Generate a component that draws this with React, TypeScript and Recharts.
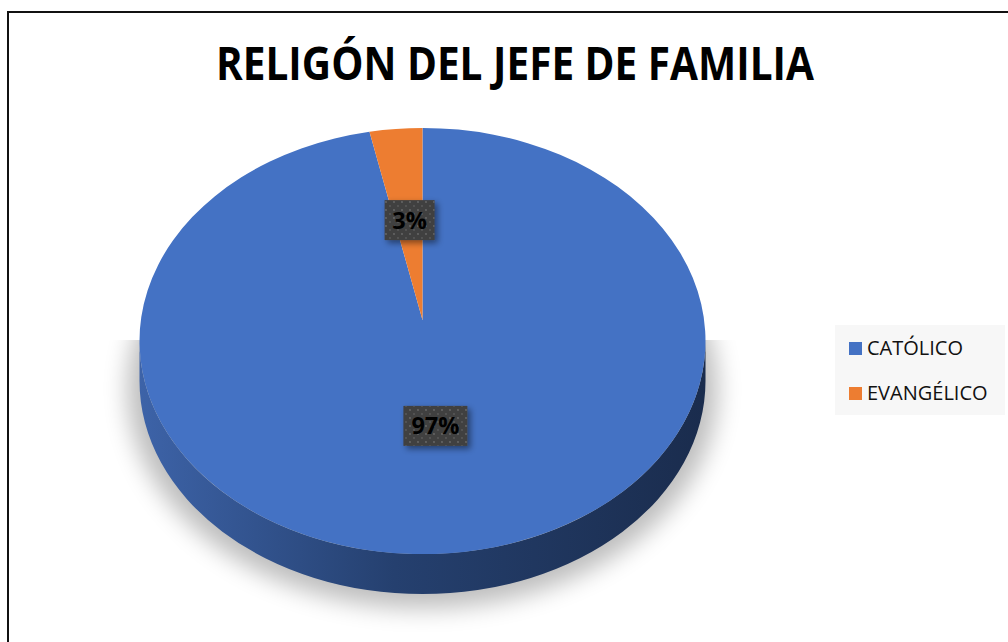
import React from "react";
import { PieChart, Pie, Cell, Legend } from "recharts";

const categories = ["CATÓLICO", "EVANGÉLICO"];
const shares = [97, 3];
const colors = ["#4472C4", "#ED7D31"];

const data = categories.map((name, i) => ({ name, value: shares[i] }));

const TILT = 0.753; // vertical squash of the disc
const DEPTH = 40; // thickness of the disc edge
const APEX_SHIFT = -21; // perspective: visual centre sits above the ellipse centre
const RAD = Math.PI / 180;

function pt(cx: number, cy: number, rx: number, ry: number, a: number) {
  return [cx + rx * Math.cos(a * RAD), cy - ry * Math.sin(a * RAD)];
}

function Slice3D(props: any) {
  const { cx, cy, outerRadius, startAngle, endAngle, fill, name } = props;
  const rx = outerRadius;
  const ry = outerRadius * TILT;
  const hi = Math.max(startAngle, endAngle);
  const lo = Math.min(startAngle, endAngle);
  const [x0, y0] = pt(cx, cy, rx, ry, hi);
  const [x1, y1] = pt(cx, cy, rx, ry, lo);
  const large = hi - lo > 180 ? 1 : 0;
  const top = `M${cx},${cy + APEX_SHIFT} L${x0},${y0} A${rx},${ry} 0 ${large} 1 ${x1},${y1} Z`;

  // front-facing part of the edge
  const sides: string[] = [];
  for (let n = -720; n <= 360; n += 360) {
    const s = Math.max(lo, -180 + n);
    const e = Math.min(hi, n);
    if (e > s) {
      const [ax, ay] = pt(cx, cy, rx, ry, e);
      const [bx, by] = pt(cx, cy, rx, ry, s);
      const big = e - s > 180 ? 1 : 0;
      sides.push(
        `M${ax},${ay} A${rx},${ry} 0 ${big} 1 ${bx},${by} L${bx},${by + DEPTH} A${rx},${ry} 0 ${big} 0 ${ax},${ay + DEPTH} Z`
      );
    }
  }

  const first = name === categories[0];
  return (
    <g>
      {first && (
        <g clipPath="url(#shadowClip)">
          <ellipse
            cx={cx}
            cy={cy + 48}
            rx={rx + 12}
            ry={ry + 6}
            fill="#000"
            opacity={0.26}
            filter="url(#shadowBlur)"
          />
        </g>
      )}
      {sides.map((d, i) => (
        <path key={i} d={d} fill="url(#edgeGrad)" />
      ))}
      <path d={top} fill={fill} />
    </g>
  );
}

function renderLabel(props: any) {
  const { cx, cy, midAngle, outerRadius, percent } = props;
  const f = 0.485;
  const x = cx + f * outerRadius * Math.cos(midAngle * RAD);
  const y = cy - 18 - f * outerRadius * TILT * Math.sin(midAngle * RAD);
  const text = `${Math.round(percent * 100)}%`;
  const w = 14 * text.length + 22;
  const h = 40;
  return (
    <g>
      <rect x={x - w / 2} y={y - h / 2} width={w} height={h} fill="#404040" filter="url(#labelShadow)" />
      <rect x={x - w / 2} y={y - h / 2} width={w} height={h} fill="url(#dots)" />
      <text
        x={x}
        y={y + 8.5}
        textAnchor="middle"
        fontFamily="Open Sans, sans-serif"
        fontWeight={700}
        fontSize={23.5}
        fill="#000"
      >
        {text}
      </text>
    </g>
  );
}

function renderLegend() {
  return (
    <svg width={170} height={90} style={{ display: "block" }}>
      <rect x={0} y={0} width={170} height={90} fill="#f7f7f7" />
      {categories.map((c, i) => (
        <g key={c}>
          <rect x={14} y={17 + 45 * i} width={13} height={13} fill={colors[i]} />
          <text x={32} y={30 + 45 * i} fontFamily="Open Sans, sans-serif" fontSize={20} fill="#111">
            {c}
          </text>
        </g>
      ))}
    </svg>
  );
}

export default function App() {
  return (
    <div
      style={{
        position: "absolute",
        left: 0,
        top: 0,
        width: 1008,
        height: 642,
        overflow: "hidden",
        background: "#fff",
      }}
    >
      <svg width={0} height={0} style={{ position: "absolute" }}>
        <defs>
          <linearGradient id="edgeGrad" gradientUnits="userSpaceOnUse" x1={139} y1={0} x2={706} y2={0}>
            <stop offset="0%" stopColor="#3d63a8" />
            <stop offset="45%" stopColor="#25406f" />
            <stop offset="100%" stopColor="#1a2c4d" />
          </linearGradient>
          <filter id="shadowBlur" x="-20%" y="-20%" width="140%" height="140%">
            <feGaussianBlur stdDeviation="12" />
          </filter>
          <clipPath id="shadowClip">
            <rect x={0} y={340} width={1008} height={400} />
          </clipPath>
          <filter id="labelShadow" x="-30%" y="-30%" width="170%" height="170%">
            <feDropShadow dx="3" dy="3" stdDeviation="3" floodColor="#000" floodOpacity="0.45" />
          </filter>
          <pattern id="dots" width={8} height={8} patternUnits="userSpaceOnUse">
            <circle cx={2} cy={2} r={0.9} fill="#6a6a6a" />
            <circle cx={6} cy={6} r={0.9} fill="#5a5a5a" />
          </pattern>
        </defs>
      </svg>

      <div
        style={{
          position: "absolute",
          left: 7,
          top: 11,
          width: 1100,
          height: 700,
          border: "2px solid #111",
          boxSizing: "border-box",
        }}
      />

      <svg width={1008} height={110} style={{ position: "absolute", left: 0, top: 0 }}>
        <text
          x={515}
          y={80}
          textAnchor="middle"
          textLength={598}
          lengthAdjust="spacingAndGlyphs"
          fontFamily="Open Sans, sans-serif"
          fontWeight={700}
          fontSize={46}
          fill="#000"
        >
          RELIGÓN DEL JEFE DE FAMILIA
        </text>
      </svg>

      <div style={{ position: "absolute", left: 0, top: 0 }}>
        <PieChart width={1008} height={642} margin={{ top: 0, right: 0, bottom: 0, left: 0 }}>
          <Pie
            data={data}
            dataKey="value"
            nameKey="name"
            cx={422.5}
            cy={341}
            outerRadius={283}
            startAngle={90}
            endAngle={-270}
            stroke="none"
            shape={Slice3D}
            label={renderLabel}
            labelLine={false}
            isAnimationActive={false}
          >
            {data.map((d, i) => (
              <Cell key={d.name} fill={colors[i]} />
            ))}
          </Pie>
          <Legend
            layout="vertical"
            verticalAlign="top"
            align="right"
            content={renderLegend}
            wrapperStyle={{ left: 835, top: 325, width: 170, height: 90 }}
          />
        </PieChart>
      </div>
    </div>
  );
}
